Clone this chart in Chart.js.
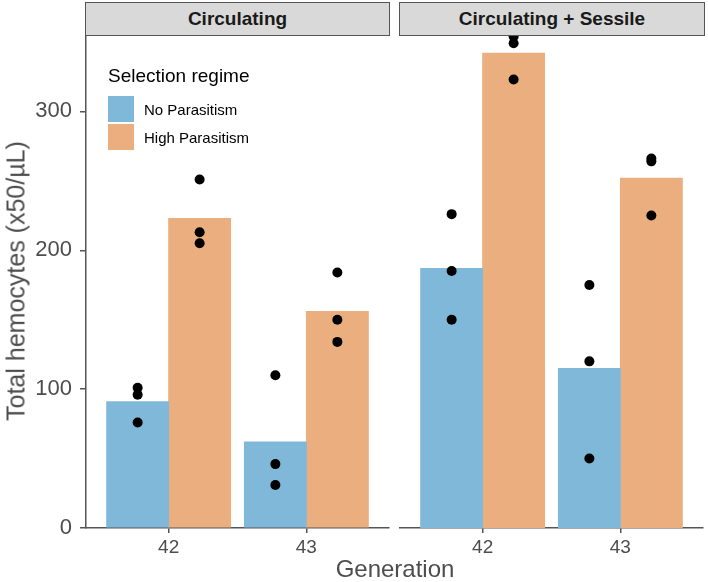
<!DOCTYPE html>
<html><head><meta charset="utf-8">
<script src="https://cdn.jsdelivr.net/npm/chart.js@4"></script>
<style>
body{margin:0;width:708px;height:582px;position:relative;background:#fff;font-family:"Liberation Sans",Arial,Helvetica,sans-serif;overflow:hidden}
canvas{position:absolute;top:0}
.strip{position:absolute;top:2px;height:34px;box-sizing:border-box;border:1.3px solid #555;background:#d9d9d9;color:#1a1a1a;font-weight:bold;font-size:19px;text-align:center;line-height:32px;z-index:2}
.ytitle{position:absolute;left:16px;top:281px;transform:translate(-50%,-50%) rotate(-90deg);white-space:nowrap;font-size:25px;color:#4d4d4d}
.xtitle{position:absolute;left:395px;top:569px;transform:translate(-50%,-50%);white-space:nowrap;font-size:24px;color:#4d4d4d}
.legend{position:absolute;left:108px;top:65px;z-index:2}
.lt{font-size:19px;color:#000;line-height:22px;margin-bottom:8px}
.li{display:flex;align-items:center;height:28px}
.key{width:26px;height:26px;margin-right:10px}
.ll{font-size:15px;color:#000}
</style></head><body>
<canvas id="c1" width="394" height="582" style="left:0"></canvas>
<canvas id="c2" width="313" height="582" style="left:395px"></canvas>
<div class="strip" style="left:85px;width:305px">Circulating</div>
<div class="strip" style="left:399px;width:306px">Circulating + Sessile</div>
<div class="ytitle">Total hemocytes (x50/µL)</div>
<div class="xtitle">Generation</div>
<div class="legend">
  <div class="lt">Selection regime</div>
  <div class="li"><div class="key" style="background:#80B8DA"></div><span class="ll">No Parasitism</span></div>
  <div class="li"><div class="key" style="background:#EBAE7E"></div><span class="ll">High Parasitism</span></div>
</div>
<script>
// ---- data ----
const generations = [42, 43];
const yTickValues = [0, 100, 200, 300];
const seriesNames = ["No Parasitism", "High Parasitism"];

// Panel "Circulating": bar heights (means) per generation
const circNoPara = [91, 62];
const circHighPara = [223, 156];
// replicate points per generation
const circNoParaPts = [[101, 96, 76], [110, 46, 31]];
const circHighParaPts = [[251, 213, 205], [184, 150, 134]];

// Panel "Circulating + Sessile"
const csNoPara = [187, 115];
const csHighPara = [342, 252];
const csNoParaPts = [[226, 185, 150], [175, 120, 50]];
const csHighParaPts = [[354, 349, 323], [266, 264, 225]];

// ---- styling ----
const colNo = '#80B8DA', colHigh = '#EBAE7E';
const axisCol = '#555';
const dodge = 0.225;

function barData(vals, off) { return generations.map((g, i) => ({x: g + off, y: vals[i]})); }
function ptData(pts, off) {
  const out = [];
  generations.forEach((g, i) => pts[i].forEach(v => out.push({x: g + off, y: v})));
  return out;
}

function makeChart(id, noVals, hiVals, noPts, hiPts, showY, padLeft, padRight) {
  const ds = [
    {type: 'scatter', label: 'pts1', data: ptData(noPts, -dodge), pointRadius: 5, pointBackgroundColor: '#000', pointBorderWidth: 0, order: 0},
    {type: 'scatter', label: 'pts2', data: ptData(hiPts, dodge), pointRadius: 5, pointBackgroundColor: '#000', pointBorderWidth: 0, order: 0},
    {type: 'bar', label: seriesNames[0], data: barData(noVals, -dodge), backgroundColor: colNo, barThickness: 62.2, grouped: false, borderWidth: 0, order: 1},
    {type: 'bar', label: seriesNames[1], data: barData(hiVals, dodge), backgroundColor: colHigh, barThickness: 62.2, grouped: false, borderWidth: 0, order: 1}
  ];
  return new Chart(document.getElementById(id), {
    type: 'bar',
    data: {datasets: ds},
    options: {
      responsive: false, animation: false, events: [],
      layout: {padding: {left: padLeft, right: padRight, top: 35, bottom: 0}},
      plugins: {legend: {display: false}, tooltip: {enabled: false}},
      scales: {
        x: {
          type: 'linear', min: 41.4, max: 43.6, offset: false,
          afterBuildTicks: s => { s.ticks = generations.map(v => ({value: v})); },
          afterFit: s => { s.height = 54; },
          border: {display: true, color: axisCol, width: 1.5},
          grid: {offset: false, drawOnChartArea: false, drawTicks: true, tickLength: 5, color: axisCol, lineWidth: 1.5},
          ticks: {font: {size: 19, family: '"Liberation Sans", Arial'}, color: '#4d4d4d', padding: 3, maxRotation: 0,
                  callback: v => String(v)}
        },
        y: {
          display: showY, min: 0, max: 355,
          afterBuildTicks: s => { s.ticks = yTickValues.map(v => ({value: v})); },
          afterFit: s => { if (showY) s.width = 86; },
          border: {display: true, color: axisCol, width: 1.5},
          grid: {offset: false, drawOnChartArea: false, drawTicks: true, tickLength: 6, color: axisCol, lineWidth: 1.5},
          ticks: {font: {size: 22, family: '"Liberation Sans", Arial'}, color: '#4d4d4d', padding: 8}
        }
      }
    }
  });
}

makeChart('c1', circNoPara, circHighPara, circNoParaPts, circHighParaPts, true, 0, 4);
makeChart('c2', csNoPara, csHighPara, csNoParaPts, csHighParaPts, false, 4, 5);
</script>
</body></html>
